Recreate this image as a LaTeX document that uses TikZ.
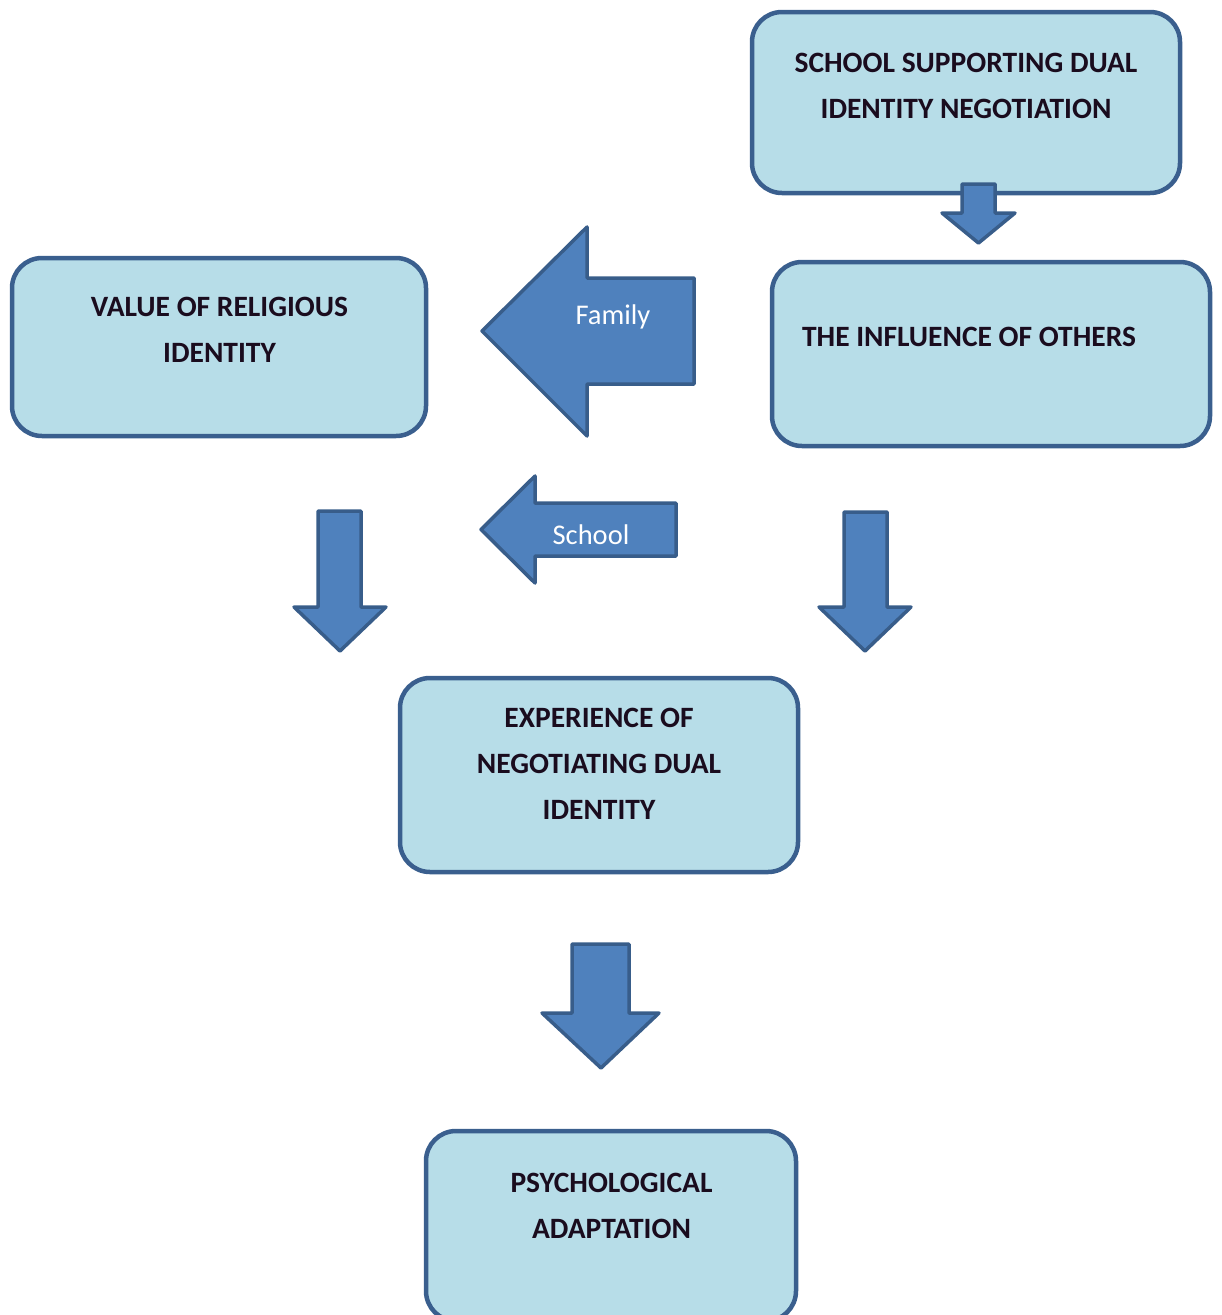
\documentclass[tikz,border=0pt]{standalone}
\usepackage{fontspec}
\setmainfont{Carlito}
\definecolor{boxfill}{HTML}{B7DDE8}
\definecolor{boxline}{HTML}{3A5F8E}
\definecolor{arrfill}{HTML}{4F81BD}
\definecolor{arrline}{HTML}{385D8A}
\definecolor{txt}{HTML}{1A0C1E}
\tikzset{
  box/.style={draw=boxline, fill=boxfill, line width=4.5pt, rounded corners=30pt, inner sep=0pt},
  boxtext/.style={text=txt, font=\bfseries\fontsize{29.5}{46}\selectfont, align=center, inner sep=0pt},
  blockarrow/.style={draw=arrline, fill=arrfill, line width=3.5pt, line join=round},
  arrtext/.style={text=white, font=\fontsize{28.5}{34}\selectfont, inner sep=0pt}
}
\begin{document}
\begin{tikzpicture}[x=1pt,y=-1pt]
\useasboundingbox (0,0) rectangle (1222,1315);
\clip (0,0) rectangle (1222,1315);
% boxes
\node[box, minimum width=428pt, minimum height=181pt] (school) at (966,102.5) {};
\node[box, minimum width=438pt, minimum height=184pt] (others) at (991,354) {};
\node[box, minimum width=414pt, minimum height=178pt] (value) at (219,347) {};
\node[box, minimum width=398pt, minimum height=194pt] (exper) at (599,775) {};
\node[box, minimum width=370pt, minimum height=190pt] (psych) at (611,1226) {};
% texts
\node[boxtext] (tschool) at (966,85.5) {SCHOOL SUPPORTING DUAL\\IDENTITY NEGOTIATION};
\node[boxtext] (tothers) at (969,336.5) {THE INFLUENCE OF OTHERS};
\node[boxtext] (tvalue) at (219.5,330) {VALUE OF RELIGIOUS\\IDENTITY};
\node[boxtext] (texper) at (599,763.5) {EXPERIENCE OF\\NEGOTIATING DUAL\\IDENTITY};
\node[boxtext] (tpsych) at (611.5,1205.5) {PSYCHOLOGICAL\\ADAPTATION};
% small down arrow
\draw[blockarrow] (962,184) -- (995,184) -- (995,213) -- (1015,213) -- (978.5,243) -- (942,213) -- (962,213) -- cycle;
% family arrow
\draw[blockarrow] (482,331) -- (587,227) -- (587,278) -- (694,278) -- (694,384) -- (587,384) -- (587,436) -- cycle;
\node[arrtext] (lfamily) at (613,317) {Family};
% school arrow
\draw[blockarrow] (481,529.5) -- (535,476) -- (535,503) -- (676,503) -- (676,556) -- (535,556) -- (535,583) -- cycle;
\node[arrtext] (lschool) at (591,535) {School};
% left down arrow
\draw[blockarrow] (318,511) -- (361,511) -- (361,607) -- (386,607) -- (340,651) -- (294,607) -- (318,607) -- cycle;
% right down arrow
\draw[blockarrow] (844,512) -- (887,512) -- (887,607) -- (911,607) -- (865,651) -- (819,607) -- (844,607) -- cycle;
% big down arrow
\draw[blockarrow] (572,944) -- (629,944) -- (629,1013) -- (659,1013) -- (601,1068) -- (542,1013) -- (572,1013) -- cycle;
\end{tikzpicture}
\end{document}
